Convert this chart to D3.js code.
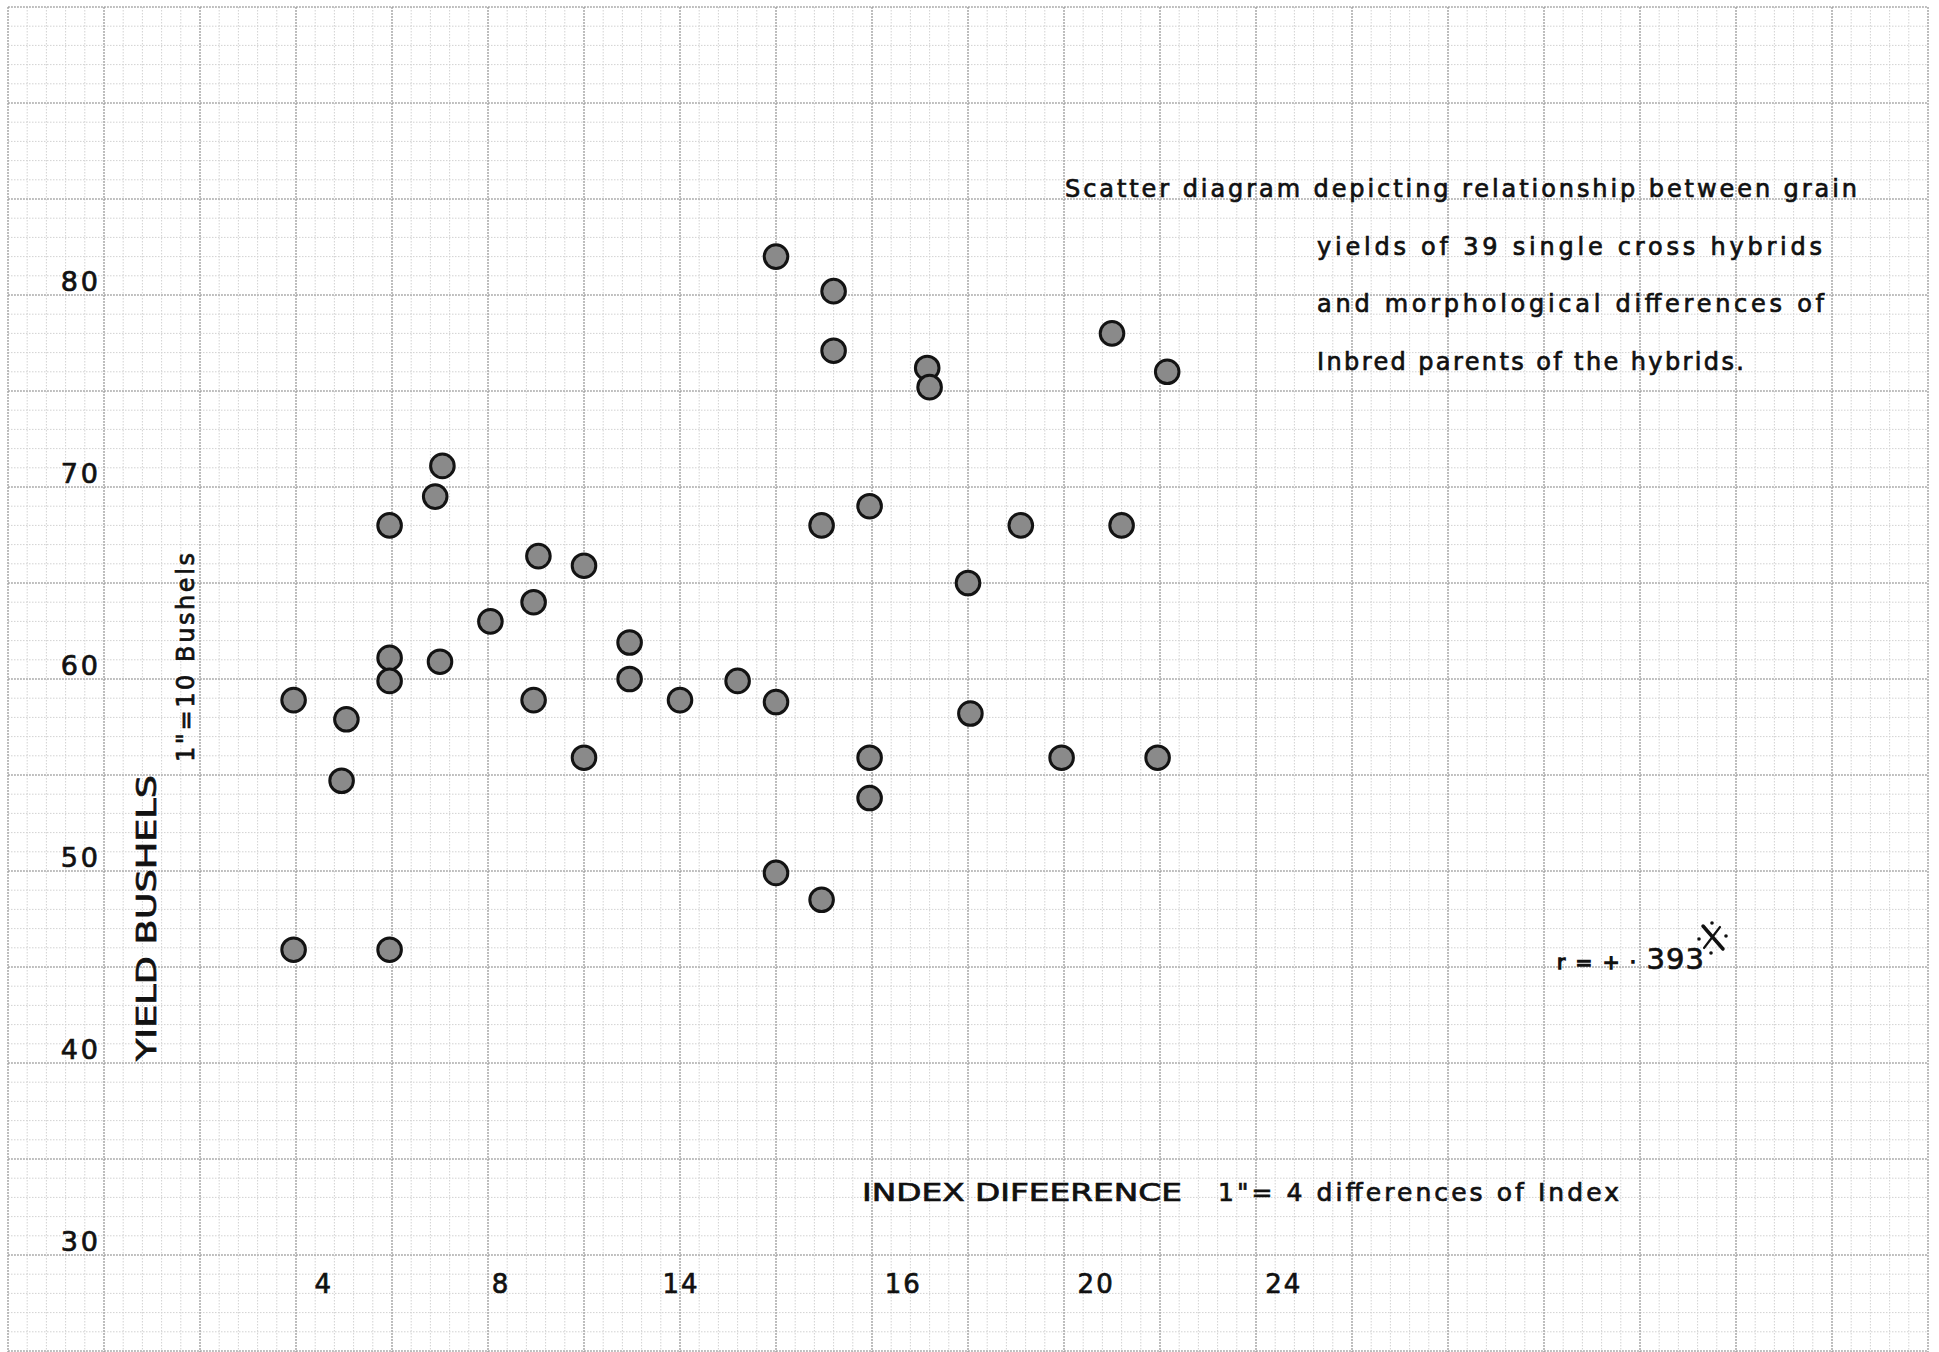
<!DOCTYPE html>
<html>
<head>
<meta charset="utf-8">
<script src="https://cdn.jsdelivr.net/npm/d3@7"></script>
<style>
  html, body { margin: 0; padding: 0; background: #fff; }
  svg { display: block; }
  text { font-family: "DejaVu Sans", sans-serif; fill: #111; stroke: #111; stroke-width: 0.7; }
</style>
</head>
<body>
<div id="chart"></div>
<script>
// index difference of the inbred parents (x) and yield in bushels (y)
const indexDiff = [
  14, 15.2, 15.2, 17.15, 17.2, 21, 22.15,
  7.05, 6.9, 5.95, 14.95, 15.95, 19.1, 21.2,
  9.05, 10, 18, 8.05, 8.95, 10.95,
  5.95, 7, 5.95, 10.95, 13.2, 3.95, 5.05,
  8.95, 12, 14, 18.05, 10, 15.95, 19.95, 21.95,
  4.95, 15.95, 14, 14.95, 3.95, 5.95
];
const yieldBu = [
  82.0, 80.2, 77.1, 76.2, 75.2, 78.0, 76.0,
  71.1, 69.5, 68.0, 68.0, 69.0, 68.0, 68.0,
  66.4, 65.9, 65.0, 63.0, 64.0, 61.9,
  61.1, 60.9, 59.9, 60.0, 59.9, 58.9, 57.9,
  58.9, 58.9, 58.8, 58.2, 55.9, 55.9, 55.9, 55.9,
  54.7, 53.8, 49.9, 48.5, 45.9, 45.9
];

// hand lettered tick labels and where they were written (index units)
const yTicks = [80, 70, 60, 50, 40, 30];
const xTickLabels = ["4", "8", "14", "16", "20", "24"];
const xTickSpots = [4.58, 8.27, 12.02, 16.65, 20.67, 24.58];

const titleLines = [
  "Scatter diagram depicting relationship between grain",
  "yields of 39 single cross hybrids",
  "and morphological differences of",
  "Inbred parents of the hybrids."
];

const width = 1939;
const height = 1352;

const svg = d3.select("#chart")
  .append("svg")
  .attr("width", width)
  .attr("height", height);

svg.append("rect").attr("width", width).attr("height", height).attr("fill", "#fff");

// the whole sheet of graph paper is the plot area
const x = d3.scaleLinear().domain([-2, 38]).range([8, 1928]);
const y = d3.scaleLinear().domain([25, 95]).range([1351, 7]);

// graph paper: minor every 0.4 index / 1 bushel, heavy every 2 index / 5 bushels
const minorX = d3.range(-2, 38.01, 0.4);
const minorY = d3.range(25, 95.01, 1);
const majorX = d3.range(-2, 38.01, 2);
const majorY = d3.range(25, 95.01, 5);

const grid = svg.append("g").attr("class", "grid");

grid.selectAll(".vminor")
  .data(minorX)
  .enter()
  .append("line")
  .attr("x1", (d) => x(d)).attr("x2", (d) => x(d))
  .attr("y1", y(95)).attr("y2", height)
  .attr("stroke", "#d2d2d2")
  .attr("stroke-width", 1)
  .attr("stroke-dasharray", "1.5,1.5");

grid.selectAll(".hminor")
  .data(minorY)
  .enter()
  .append("line")
  .attr("x1", x(-2)).attr("x2", x(38))
  .attr("y1", (d) => y(d)).attr("y2", (d) => y(d))
  .attr("stroke", "#d2d2d2")
  .attr("stroke-width", 1)
  .attr("stroke-dasharray", "1.5,1.5");

grid.selectAll(".vmajor")
  .data(majorX)
  .enter()
  .append("line")
  .attr("x1", (d) => x(d)).attr("x2", (d) => x(d))
  .attr("y1", y(95)).attr("y2", height)
  .attr("stroke", "#969696")
  .attr("stroke-width", 1.1)
  .attr("stroke-dasharray", "2,1");

grid.selectAll(".hmajor")
  .data(majorY)
  .enter()
  .append("line")
  .attr("x1", x(-2)).attr("x2", x(38))
  .attr("y1", (d) => y(d)).attr("y2", (d) => y(d))
  .attr("stroke", "#969696")
  .attr("stroke-width", 1.1)
  .attr("stroke-dasharray", "2,1");

// y tick labels, written just above their line
svg.selectAll(".ylab")
  .data(yTicks)
  .enter()
  .append("text")
  .attr("x", 101)
  .attr("y", (d) => y(d) - 4)
  .attr("text-anchor", "end")
  .attr("font-size", 27)
  .attr("letter-spacing", 3)
  .text((d) => d);

// x tick labels under the 30 line
svg.selectAll(".xlab")
  .data(xTickLabels)
  .enter()
  .append("text")
  .attr("x", (d, i) => x(xTickSpots[i]))
  .attr("y", y(30) + 38)
  .attr("text-anchor", "middle")
  .attr("font-size", 26)
  .attr("letter-spacing", 2)
  .text((d) => d);

// axis titles
svg.append("text")
  .attr("x", 862)
  .attr("y", 1201)
  .attr("font-size", 25)
  .attr("stroke-width", 1)
  .attr("textLength", 320)
  .attr("lengthAdjust", "spacingAndGlyphs")
  .text("INDEX DIFEERENCE");

svg.append("text")
  .attr("x", 1218)
  .attr("y", 1201)
  .attr("font-size", 25)
  .attr("textLength", 401)
  .attr("lengthAdjust", "spacing")
  .text("1\"= 4 differences of Index");

svg.append("text")
  .attr("transform", "translate(156,1061) rotate(-90)")
  .attr("font-size", 26)
  .attr("stroke-width", 1.1)
  .attr("textLength", 286)
  .attr("lengthAdjust", "spacingAndGlyphs")
  .text("YIELD BUSHELS");

svg.append("text")
  .attr("transform", "translate(194,762) rotate(-90)")
  .attr("font-size", 24)
  .attr("textLength", 209)
  .attr("lengthAdjust", "spacing")
  .text("1\"=10 Bushels");

// title block, upper right
const titleX = [1065, 1317, 1317, 1317];
const titleY = [197, 255, 312, 370];
const titleW = [792, 505, 507, 427];

svg.selectAll(".title")
  .data(titleLines)
  .enter()
  .append("text")
  .attr("x", (d, i) => titleX[i])
  .attr("y", (d, i) => titleY[i])
  .attr("font-size", 24)
  .attr("textLength", (d, i) => titleW[i])
  .attr("lengthAdjust", "spacing")
  .text((d) => d);

// correlation note
const rNote = svg.append("text").attr("x", 1557).attr("y", 969);
rNote.append("tspan").attr("font-size", 20).attr("stroke-width", 1.3).attr("letter-spacing", 2).text("r = + · ");
rNote.append("tspan").attr("font-size", 29).attr("letter-spacing", 1).text("393");

const star = svg.append("g")
  .attr("transform", "translate(1712,938)")
  .attr("stroke", "#111")
  .attr("stroke-linecap", "round");
star.append("line").attr("x1", -9).attr("y1", -12).attr("x2", 11).attr("y2", 11).attr("stroke-width", 3.5);
star.append("line").attr("x1", 8).attr("y1", -11).attr("x2", -8).attr("y2", 10).attr("stroke-width", 2.2);
star.selectAll("circle")
  .data([[0, -15], [-13, 1], [14, -2], [-1, 15]])
  .enter()
  .append("circle")
  .attr("cx", (d) => d[0]).attr("cy", (d) => d[1])
  .attr("r", 1.8)
  .attr("fill", "#111")
  .attr("stroke", "none");

// the dots
svg.append("g")
  .selectAll("circle")
  .data(indexDiff.map((d, i) => [d, yieldBu[i]]))
  .enter()
  .append("circle")
  .attr("cx", (d) => x(d[0]))
  .attr("cy", (d) => y(d[1]))
  .attr("r", 11.8)
  .attr("fill", "#8a8a8a")
  .attr("stroke", "#131313")
  .attr("stroke-width", 3);
</script>
</body>
</html>
